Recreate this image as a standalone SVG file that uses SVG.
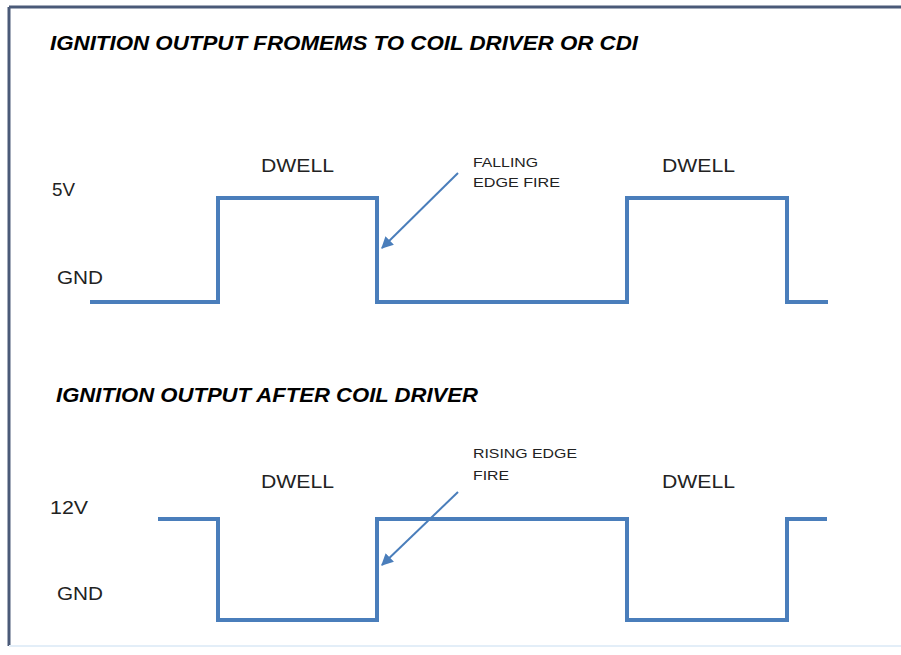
<svg xmlns="http://www.w3.org/2000/svg" width="901" height="655" viewBox="0 0 901 655">
<defs>
<style>
.title{font-family:"Liberation Sans",Arial,sans-serif;font-weight:bold;font-style:italic;font-size:21px;fill:#000}
.lbl{font-family:"Liberation Sans",Arial,sans-serif;font-size:18px;fill:#222}
.note{font-family:"Liberation Sans",Arial,sans-serif;font-size:13px;fill:#222}
.wave{fill:none;stroke:#4a7ebb;stroke-width:4;stroke-linejoin:miter;stroke-linecap:butt}
.arrow{fill:none;stroke:#4a7ebb;stroke-width:2}
</style>
<marker id="ah" viewBox="0 0 10 10" refX="9" refY="5" markerWidth="6" markerHeight="6" orient="auto" markerUnits="strokeWidth">
<path d="M0,0 L10,5 L0,10 z" fill="#4a7ebb"/>
</marker>
</defs>
<rect x="0" y="0" width="901" height="655" fill="#fff"/>
<g id="frame">
<line x1="9" y1="7" x2="901" y2="7" stroke="#4a5a78" stroke-width="3"/>
<line x1="9" y1="7" x2="9" y2="646" stroke="#4a5a78" stroke-width="3"/>
<line x1="9" y1="646" x2="901" y2="646" stroke="#e3eef8" stroke-width="2"/>
</g>
<g id="title1"><text class="title" x="50" y="50" textLength="588" lengthAdjust="spacingAndGlyphs">IGNITION OUTPUT FROMEMS TO COIL DRIVER OR CDI</text></g>
<g id="title2"><text class="title" x="56" y="402" textLength="422" lengthAdjust="spacingAndGlyphs">IGNITION OUTPUT AFTER COIL DRIVER</text></g>
<g id="wave1"><path class="wave" d="M90,302 H218 V198 H377 V302 H627 V198 H787 V302 H828"/></g>
<g id="wave2"><path class="wave" d="M158,519 H218 V620 H377 V519 H627 V620 H787 V519 H827"/></g>
<g id="labels1">
<text class="lbl" x="52" y="196" textLength="23" lengthAdjust="spacingAndGlyphs">5V</text>
<text class="lbl" x="57" y="284" textLength="46" lengthAdjust="spacingAndGlyphs">GND</text>
<text class="lbl" x="261" y="172" textLength="73" lengthAdjust="spacingAndGlyphs">DWELL</text>
<text class="lbl" x="662" y="172" textLength="73" lengthAdjust="spacingAndGlyphs">DWELL</text>
</g>
<g id="labels2">
<text class="lbl" x="50" y="514" textLength="38" lengthAdjust="spacingAndGlyphs">12V</text>
<text class="lbl" x="57" y="600" textLength="46" lengthAdjust="spacingAndGlyphs">GND</text>
<text class="lbl" x="261" y="488" textLength="73" lengthAdjust="spacingAndGlyphs">DWELL</text>
<text class="lbl" x="662" y="488" textLength="73" lengthAdjust="spacingAndGlyphs">DWELL</text>
</g>
<g id="note-falling">
<text class="note" x="473" y="167" textLength="65" lengthAdjust="spacingAndGlyphs">FALLING</text>
<text class="note" x="473" y="187" textLength="87" lengthAdjust="spacingAndGlyphs">EDGE FIRE</text>
</g>
<g id="note-rising">
<text class="note" x="473" y="458" textLength="104" lengthAdjust="spacingAndGlyphs">RISING EDGE</text>
<text class="note" x="473" y="480" textLength="36" lengthAdjust="spacingAndGlyphs">FIRE</text>
</g>
<g id="connectors">
<line class="arrow" x1="458" y1="173" x2="382" y2="248" marker-end="url(#ah)"/>
<line class="arrow" x1="458" y1="492" x2="382" y2="565" marker-end="url(#ah)"/>
</g>
</svg>
